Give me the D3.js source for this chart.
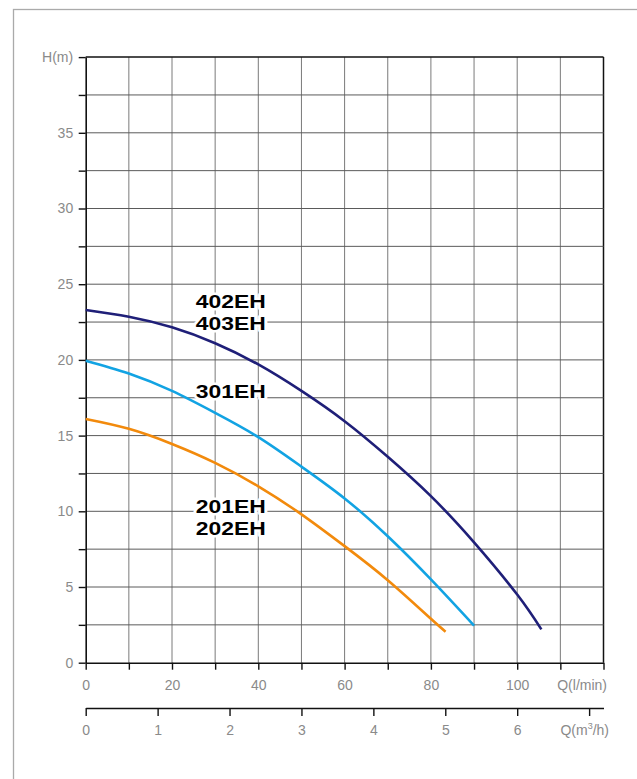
<!DOCTYPE html>
<html>
<head>
<meta charset="utf-8">
<script src="https://cdn.jsdelivr.net/npm/d3@7"></script>
<style>
  html, body { margin: 0; padding: 0; background: #fff; }
  svg { display: block; }
  text { font-family: "Liberation Sans", Arial, sans-serif; }
</style>
</head>
<body>
<svg id="chart" width="637" height="779"></svg>
<script>
// ---- data ----
const qNavy   = [0, 10, 20, 30, 40, 50, 60, 70, 80, 90, 100, 105.6];
const hNavy   = [23.3, 22.85, 22.15, 21.1, 19.7, 17.95, 15.95, 13.6, 11.0, 7.95, 4.5, 2.2];
const qCyan   = [0, 10, 20, 30, 40, 50, 60, 70, 80, 90];
const hCyan   = [19.95, 19.1, 17.95, 16.5, 14.9, 12.95, 10.85, 8.35, 5.5, 2.45];
const qOrange = [0, 10, 20, 30, 40, 50, 60, 70, 80, 83.4];
const hOrange = [16.1, 15.45, 14.45, 13.2, 11.65, 9.8, 7.7, 5.45, 2.9, 2.05];

const seriesNames  = ["402EH/403EH", "301EH", "201EH/202EH"];
const seriesColors = ["#1f1f78", "#12a3e3", "#f28a0c"];

const qTicks   = [0, 10, 20, 30, 40, 50, 60, 70, 80, 90, 100, 110, 120];
const qLabels  = ["0", "", "20", "", "40", "", "60", "", "80", "", "100", "", ""];
const hTicks   = [0, 2.5, 5, 7.5, 10, 12.5, 15, 17.5, 20, 22.5, 25, 27.5, 30, 32.5, 35, 37.5, 40];
const hLabels  = ["0", "", "5", "", "10", "", "15", "", "20", "", "25", "", "30", "", "35", "", "H(m)"];
const m3Ticks  = [0, 1, 2, 3, 4, 5, 6, 7];
const m3Labels = ["0", "1", "2", "3", "4", "5", "6", ""];

// model labels: [lines, Q, H of first baseline]
const modelLabels = [
  { lines: ["402EH", "403EH"], q: 25.5, h: 23.4 },
  { lines: ["301EH"],          q: 25.5, h: 17.5 },
  { lines: ["201EH", "202EH"], q: 25.5, h: 9.9 }
];

// ---- layout ----
const svg = d3.select("#chart");
const x = d3.scaleLinear().domain([0, 120]).range([85.7, 603.5]);
const y = d3.scaleLinear().domain([0, 40]).range([662.7, 57.1]);
const x2 = d3.scaleLinear().domain([0, 7.2]).range([x(0), x(120)]);

// outer frame
svg.append("rect")
  .attr("x", 13.5).attr("y", 9.5)
  .attr("width", 700).attr("height", 800)
  .attr("fill", "none").attr("stroke", "#aaaaaa").attr("stroke-width", 1.3);

// grid
const g = svg.append("g");
g.selectAll("line.v").data(qTicks.filter(d => d > 0)).join("line")
  .attr("x1", d => x(d)).attr("x2", d => x(d))
  .attr("y1", y(0)).attr("y2", y(40))
  .attr("stroke", d => d === 120 ? "#111" : "#7a7a7a")
  .attr("stroke-width", d => d === 120 ? 1.5 : 1);
g.selectAll("line.h").data(hTicks.filter(d => d > 0)).join("line")
  .attr("x1", x(0)).attr("x2", x(120))
  .attr("y1", d => y(d)).attr("y2", d => y(d))
  .attr("stroke", d => d === 40 ? "#111" : "#5a5a5a")
  .attr("stroke-width", d => d === 40 ? 1.5 : 1);

function styleAxis(sel) {
  sel.select(".domain").attr("stroke", "#111").attr("stroke-width", 1.6);
  sel.selectAll(".tick line").attr("stroke", "#111").attr("stroke-width", 1.4);
  sel.selectAll(".tick text")
    .attr("fill", "#8a8a8a")
    .style("font-size", "14px")
    .style("font-family", "'Liberation Sans', Arial, sans-serif");
}

// y axis
const yAxis = d3.axisLeft(y).tickValues(hTicks)
  .tickFormat((d, i) => hLabels[i]).tickSize(7).tickSizeOuter(0).tickPadding(5.5);
svg.append("g").attr("transform", `translate(${x(0)},0)`).call(yAxis).call(styleAxis);

// x axis (l/min)
const xAxis = d3.axisBottom(x).tickValues(qTicks)
  .tickFormat((d, i) => qLabels[i]).tickSize(7).tickSizeOuter(0).tickPadding(10);
svg.append("g").attr("transform", `translate(0,${y(0)})`).call(xAxis).call(styleAxis);

svg.append("text")
  .attr("x", 607).attr("y", 690)
  .attr("text-anchor", "end").attr("fill", "#8a8a8a")
  .style("font-size", "14px").text("Q(l/min)");

// second x axis (m3/h)
const x2Axis = d3.axisBottom(x2).tickValues(m3Ticks)
  .tickFormat((d, i) => m3Labels[i]).tickSize(8).tickSizeOuter(0).tickPadding(9);
svg.append("g").attr("transform", "translate(0,708)").call(x2Axis).call(styleAxis);

const qm = svg.append("text")
  .attr("x", 609).attr("y", 735)
  .attr("text-anchor", "end").attr("fill", "#8a8a8a")
  .style("font-size", "14px");
qm.append("tspan").text("Q(m");
qm.append("tspan").attr("dy", -6).style("font-size", "9px").text("3");
qm.append("tspan").attr("dy", 6).text("/h)");

// curves
const series = [
  qNavy.map((q, i) => [q, hNavy[i]]),
  qCyan.map((q, i) => [q, hCyan[i]]),
  qOrange.map((q, i) => [q, hOrange[i]])
];
const line = d3.line().x(d => x(d[0])).y(d => y(d[1])).curve(d3.curveNatural);
svg.append("g").selectAll("path").data(series).join("path")
  .attr("d", line)
  .attr("fill", "none")
  .attr("stroke", (d, i) => seriesColors[i])
  .attr("stroke-width", 2.6)
  .attr("stroke-linecap", "butt");

// model labels
modelLabels.forEach(lab => {
  lab.lines.forEach((txt, j) => {
    svg.append("text")
      .attr("x", x(lab.q))
      .attr("y", y(lab.h) + j * 22)
      .attr("textLength", 70)
      .attr("lengthAdjust", "spacingAndGlyphs")
      .attr("fill", "#000")
      .attr("stroke", "#fff").attr("stroke-width", 5)
      .attr("paint-order", "stroke")
      .attr("stroke-linejoin", "round")
      .style("font-size", "19px").style("font-weight", "bold")
      .text(txt);
  });
});
</script>
</body>
</html>
